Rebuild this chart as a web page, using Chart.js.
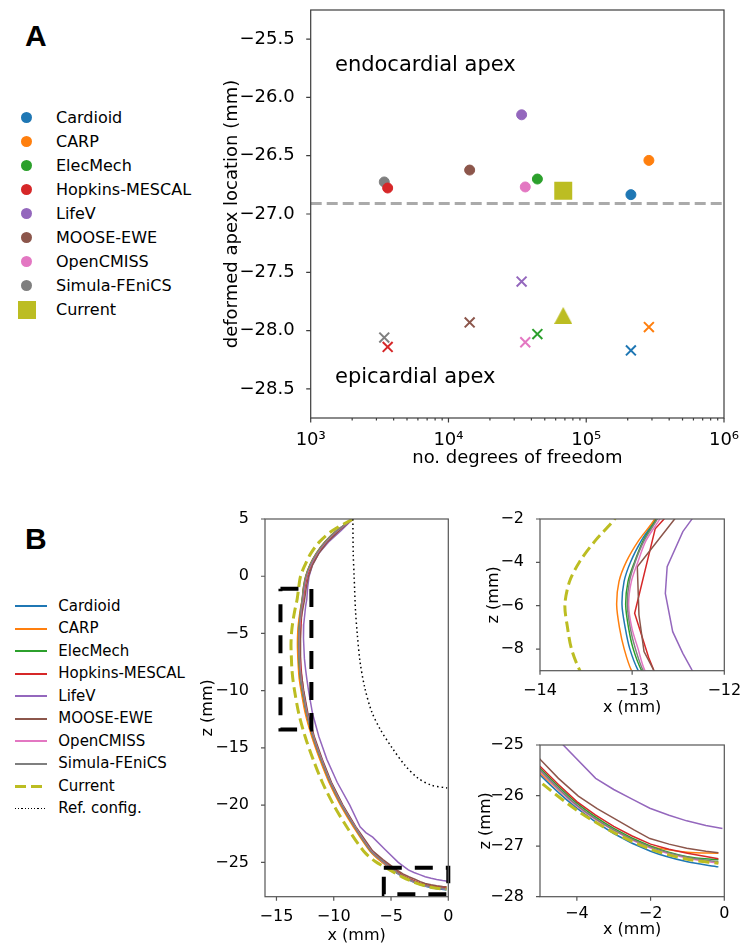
<!DOCTYPE html>
<html>
<head>
<meta charset="utf-8">
<title>Apex location</title>
<script src="https://cdn.jsdelivr.net/npm/chart.js@4.4.1/dist/chart.umd.min.js"></script>
<style>
  body { margin: 0; background: #fff; }
  #page { position: relative; width: 747px; height: 948px; overflow: hidden; font-family: 'DejaVu Sans', sans-serif; color: #000; }
  #page canvas { position: absolute; }
  .tag { position: absolute; font: bold 30px/30px 'Liberation Sans', Arial, sans-serif; }
  .legend { position: absolute; left: 0; }
  .legend-row { position: relative; white-space: nowrap; }
  .legend-row .mk { position: absolute; }
  .legend-row .tx { position: absolute; }
</style>
</head>
<body>
<div id="page">
  <div class="tag" style="left:25px;top:21px">A</div>
  <div class="tag" style="left:25px;top:524px">B</div>
  <div id="legendA" class="legend" style="top:105.7px"></div>
  <div id="legendB" class="legend" style="top:594.75px"></div>
  <canvas id="chartA"></canvas>
  <canvas id="chartB"></canvas>
  <canvas id="chartBTop"></canvas>
  <canvas id="chartBBottom"></canvas>
</div>
<script>
Chart.defaults.font.family = "'DejaVu Sans', sans-serif";
Chart.defaults.color = '#000';

var codes = ['Cardioid', 'CARP', 'ElecMech', 'Hopkins-MESCAL', 'LifeV', 'MOOSE-EWE', 'OpenCMISS', 'Simula-FEniCS'];
var colors = ['#1f77b4', '#ff7f0e', '#2ca02c', '#d62728', '#9467bd', '#8c564b', '#e377c2', '#7f7f7f'];
var currentColor = '#bcbd22';

// panel A: apex position vs no. of dofs
var dofs = [211000, 285000, 44200, 3620, 33960, 14250, 36100, 3420];
var endoApex = [-26.834, -26.54, -26.70, -26.777, -26.149, -26.623, -26.768, -26.725];
var epiApex = [-28.17, -27.97, -28.03, -28.14, -27.58, -27.93, -28.10, -28.06];
var currentDofs = 68100;
var currentEndo = -26.80;
var currentEpi = -27.87;
var refEndoApex = -26.91;
var xTicksA = [1e3, 1e4, 1e5, 1e6];
var xLabelsA = ['10³', '10⁴', '10⁵', '10⁶'];
var minorMults = [2, 3, 4, 5, 6, 7, 8, 9];
var yTicksA = [-25.5, -26, -26.5, -27, -27.5, -28, -28.5];
var noteText = ['endocardial apex', 'epicardial apex'];
var noteX = [1.5e3, 1.5e3];
var noteY = [-25.77, -28.45];

// panel B: deformed midwall lines [x, z]
var cardioidB = [[-8.33,5],[-9.72,4],[-10.77,3],[-11.52,2],[-12.07,1],[-12.44,0],[-12.64,-1],[-12.748,-2],[-12.9,-3],[-13.016,-3.97],[-13.088,-4.89],[-13.11,-5.97],[-13.074,-7.05],[-13.027,-7.97],[-12.937,-8.97],
  [-12.78,-10],[-12.4,-12],[-11.85,-14],[-11.15,-16],[-10.35,-18],[-9.35,-20],[-8.15,-22],[-6.8,-24],[-5.85,-24.9],[-5.0,-25.59],[-4.0,-26.25],[-3.0,-26.75],[-2.0,-27.1],[-1.0,-27.31],[-0.16,-27.41]];
var carpB = [[-8.33,5],[-9.73,4],[-10.78,3],[-11.53,2],[-12.08,1],[-12.45,0],[-12.65,-1],[-12.755,-2],[-12.93,-3],[-13.063,-3.97],[-13.143,-4.89],[-13.168,-5.97],[-13.136,-7.05],[-13.088,-7.97],[-13.009,-8.97],
  [-12.85,-10],[-12.48,-12],[-11.92,-14],[-11.22,-16],[-10.42,-18],[-9.42,-20],[-8.22,-22],[-6.85,-24],[-5.9,-24.9],[-5.0,-25.55],[-4.0,-26.2],[-3.0,-26.68],[-2.0,-27.0],[-1.0,-27.12],[-0.16,-27.14]];
var elecMechB = [[-8.33,5],[-9.7,4],[-10.75,3],[-11.5,2],[-12.05,1],[-12.42,0],[-12.62,-1],[-12.737,-2],[-12.88,-3],[-12.973,-3.97],[-13.045,-4.89],[-13.07,-5.97],[-13.038,-7.05],[-12.99,-7.97],[-12.9,-8.97],
  [-12.74,-10],[-12.36,-12],[-11.81,-14],[-11.11,-16],[-10.31,-18],[-9.31,-20],[-8.11,-22],[-6.76,-24],[-5.8,-24.85],[-5.0,-25.46],[-4.0,-26.15],[-3.0,-26.65],[-2.0,-27.0],[-1.0,-27.21],[-0.16,-27.27]];
var hopkinsB = [[-8.33,5],[-9.6,4],[-10.65,3],[-11.4,2],[-11.95,1],[-12.32,0],[-12.52,-1],[-12.654,-2],[-12.75,-2.45],[-12.973,-6.35],[-12.82,-8.4],[-12.766,-8.97],
  [-12.65,-10],[-12.3,-12],[-11.75,-14],[-11.05,-16],[-10.25,-18],[-9.25,-20],[-8.05,-22],[-6.7,-24],[-5.75,-24.85],[-5.0,-25.42],[-4.5,-25.78],[-4.0,-26.12],[-3.5,-26.38],[-3.0,-26.61],[-2.5,-26.8],[-2.0,-26.96],[-1.5,-27.06],[-1.0,-27.14],[-0.16,-27.25]];
var lifeVB = [[-8.33,5],[-9.35,4],[-10.45,3],[-11.3,2],[-11.85,1],[-12.15,0],[-12.28,-1],[-12.35,-2],[-12.45,-2.58],[-12.62,-4.2],[-12.64,-5.43],[-12.56,-7.2],[-12.45,-8.2],[-12.35,-8.97],
  [-12.2,-10],[-11.85,-12],[-11.3,-14],[-10.6,-16],[-9.7,-18],[-8.6,-20],[-7.7,-21.9],[-7.2,-22.4],[-6.6,-22.8],[-5.5,-23.9],[-4.37,-25],[-3.49,-25.66],[-3.0,-25.88],[-2.5,-26.07],[-2.02,-26.25],[-1.5,-26.39],[-1.02,-26.5],[-0.5,-26.59],[-0.05,-26.65]];
var mooseB = [[-8.33,5],[-9.5,4],[-10.55,3],[-11.3,2],[-11.85,1],[-12.2,0],[-12.4,-1],[-12.539,-2],[-12.944,-4.2],[-12.926,-6.43],[-12.871,-8.12],[-12.766,-8.97],
  [-12.62,-10],[-12.25,-12],[-11.7,-14],[-11.0,-16],[-10.2,-18],[-9.2,-20],[-8.0,-22],[-6.6,-24],[-5.7,-24.75],[-5.0,-25.28],[-4.5,-25.66],[-3.96,-26.01],[-3.45,-26.26],[-2.92,-26.48],[-2.45,-26.68],[-2.02,-26.85],[-1.5,-26.96],[-1.02,-27.04],[-0.5,-27.1],[-0.16,-27.13]];
var openCmissB = [[-8.33,5],[-9.67,4],[-10.71,3],[-11.46,2],[-12.01,1],[-12.38,0],[-12.58,-1],[-12.7,-2],[-12.85,-3],[-12.937,-3.97],[-13.009,-4.89],[-13.038,-5.97],[-13.002,-7.05],[-12.937,-7.97],[-12.864,-8.97],
  [-12.7,-10],[-12.33,-12],[-11.78,-14],[-11.08,-16],[-10.28,-18],[-9.28,-20],[-8.08,-22],[-6.73,-24],[-5.8,-24.87],[-5.0,-25.51],[-4.0,-26.21],[-3.0,-26.69],[-2.0,-27.04],[-1.0,-27.24],[-0.16,-27.34]];
var simulaB = [[-8.33,5],[-9.69,4],[-10.74,3],[-11.49,2],[-12.04,1],[-12.41,0],[-12.61,-1],[-12.726,-2],[-12.87,-3],[-12.966,-3.97],[-13.03,-4.89],[-13.052,-5.97],[-13.02,-7.05],[-12.966,-7.97],[-12.883,-8.97],
  [-12.72,-10],[-12.35,-12],[-11.8,-14],[-11.1,-16],[-10.3,-18],[-9.3,-20],[-8.1,-22],[-6.75,-24],[-5.8,-24.85],[-5.0,-25.49],[-4.0,-26.19],[-3.0,-26.68],[-2.0,-27.02],[-1.0,-27.22],[-0.16,-27.31]];
var currentB = [[-8.33,5],[-10.1,4],[-11.25,3],[-12.0,2],[-12.5,1],[-12.9,0],[-13.06,-1],[-13.19,-2],[-13.4,-3],[-13.57,-3.97],[-13.68,-4.89],[-13.73,-5.97],[-13.7,-7.05],[-13.66,-7.97],[-13.57,-8.97],
  [-13.42,-10],[-13.05,-12],[-12.5,-14],[-11.8,-16],[-11.0,-18],[-10.0,-20],[-8.8,-22],[-7.4,-24],[-6.4,-24.9],[-5.0,-25.73],[-4.0,-26.29],[-3.0,-26.73],[-2.0,-27.06],[-1.0,-27.26],[-0.16,-27.34]];
var refB = [[-8.33,5],[-8.3,2],[-8.22,0],[-8.1,-3],[-7.95,-5],[-7.7,-7.5],[-7.3,-9.7],[-6.7,-11.8],[-5.93,-13.4],[-4.9,-15],[-3.8,-16.5],[-2.7,-17.6],[-1.5,-18.25],[-0.1,-18.5]];
var boxTopB = [[-14.65,-1.1],[-11.95,-1.1],[-11.95,-13.4],[-14.65,-13.4],[-14.65,-1.1]];
var boxBottomB = [[-5.63,-25.46],[0,-25.46],[0,-27.78],[-5.63,-27.78],[-5.63,-25.46]];

var seriesB = [cardioidB, carpB, elecMechB, hopkinsB, lifeVB, mooseB, openCmissB, simulaB];
var tensionB = [0.3, 0.3, 0.3, 0, 0, 0, 0.3, 0.3];

var xTicksB = [-15, -10, -5, 0];
var yTicksB = [5, 0, -5, -10, -15, -20, -25];
var xTicksTop = [-14, -13, -12];
var yTicksTop = [-2, -4, -6, -8];
var xTicksBot = [-4, -2, 0];
var yTicksBot = [-25, -26, -27, -28];

function minus(s) { return String(s).replace('-', '\u2212'); }

function toXY(pts) {
  return pts.map(function(p) { return { x: p[0], y: p[1] }; });
}

function fixedTicks(list) {
  return function(s) { s.ticks = list.map(function(v) { return { value: v }; }); };
}

// spines + outward tick marks, matplotlib style
var framePlugin = {
  id: 'frame',
  afterDatasetsDraw: function(chart, args, opts) {
    var a = chart.chartArea, ctx = chart.ctx;
    var xs = chart.scales.x, ys = chart.scales.y;
    ctx.save();
    ctx.strokeStyle = opts.color;
    ctx.lineWidth = opts.width;
    ctx.beginPath();
    xs.ticks.forEach(function(t) {
      var px = xs.getPixelForValue(t.value);
      ctx.moveTo(px, a.bottom);
      ctx.lineTo(px, a.bottom + (t.label ? opts.major : opts.minor));
    });
    ys.ticks.forEach(function(t) {
      var py = ys.getPixelForValue(t.value);
      ctx.moveTo(a.left, py);
      ctx.lineTo(a.left - opts.major, py);
    });
    ctx.stroke();
    ctx.strokeRect(a.left, a.top, a.right - a.left, a.bottom - a.top);
    ctx.restore();
  }
};

var notesPlugin = {
  id: 'notes',
  afterDraw: function(chart) {
    var ctx = chart.ctx;
    ctx.save();
    ctx.font = "21px 'DejaVu Sans', sans-serif";
    ctx.fillStyle = '#000';
    ctx.textBaseline = 'alphabetic';
    ctx.textAlign = 'left';
    noteText.forEach(function(t, i) {
      ctx.fillText(t, chart.scales.x.getPixelForValue(noteX[i]), chart.scales.y.getPixelForValue(noteY[i]));
    });
    ctx.restore();
  }
};

function buildChart(id, place, plot, cfg) {
  var cv = document.getElementById(id);
  cv.width = place.w; cv.height = place.h;
  cv.style.left = place.left + 'px'; cv.style.top = place.top + 'px';
  cv.style.width = place.w + 'px'; cv.style.height = place.h + 'px';
  var fs = cfg.fontSize;
  var x = Object.assign({
    grid: { display: false }, border: { display: false },
    ticks: { font: { size: fs }, padding: cfg.xTickPad, maxRotation: 0, autoSkip: false, callback: cfg.xFmt },
    title: { display: true, text: cfg.xTitle, font: { size: fs }, padding: { top: 0, bottom: cfg.xTitlePad } },
    afterFit: function(s) { s.height = place.top + place.h - plot.bottom; s.paddingLeft = 0; s.paddingRight = 0; }
  }, cfg.x);
  var y = Object.assign({
    grid: { display: false }, border: { display: false },
    ticks: { font: { size: fs }, padding: cfg.yTickPad, autoSkip: false, callback: cfg.yFmt },
    title: { display: true, text: cfg.yTitle, font: { size: fs }, padding: { top: cfg.yTitlePad, bottom: 0 } },
    afterFit: function(s) { s.width = plot.left - place.left; s.paddingTop = 0; s.paddingBottom = 0; }
  }, cfg.y);
  return new Chart(cv, {
    type: 'scatter',
    data: { datasets: cfg.datasets },
    options: {
      responsive: false, animation: false, devicePixelRatio: 1,
      layout: { autoPadding: false, padding: { left: 0, bottom: 0, top: plot.top - place.top, right: place.left + place.w - plot.right } },
      elements: { line: { capBezierPoints: false } },
      plugins: { legend: { display: false }, tooltip: { enabled: false }, frame: cfg.frame },
      scales: { x: x, y: y }
    },
    plugins: [framePlugin].concat(cfg.plugins || [])
  });
}

function triangleMarker(w, h, color) {
  var c = document.createElement('canvas');
  c.width = w; c.height = h;
  var g = c.getContext('2d');
  g.fillStyle = color;
  g.beginPath(); g.moveTo(w / 2, 0); g.lineTo(w, h); g.lineTo(0, h); g.closePath(); g.fill();
  return c;
}

// ---- panel A ----
var datasetsA = codes.map(function(name, i) {
  return {
    label: name,
    data: [{ x: dofs[i], y: endoApex[i] }, { x: dofs[i], y: epiApex[i] }],
    pointStyle: ['circle', 'crossRot'],
    pointRadius: [5, 7],
    pointBorderWidth: [1, 2],
    backgroundColor: colors[i],
    borderColor: colors[i]
  };
});
datasetsA.push({
  label: 'Current',
  data: [{ x: currentDofs, y: currentEndo }, { x: currentDofs, y: currentEpi }],
  pointStyle: ['rect', triangleMarker(18, 17, currentColor)],
  pointRadius: [12.7, 9],
  pointBorderWidth: 0,
  backgroundColor: currentColor,
  borderColor: currentColor
});
datasetsA.push({
  label: 'ref',
  data: [{ x: xTicksA[0], y: refEndoApex }, { x: xTicksA[xTicksA.length - 1], y: refEndoApex }],
  showLine: true, pointRadius: 0, borderColor: '#aaaaaa', borderWidth: 3, borderDash: [11, 5]
});

buildChart('chartA', { left: 215, top: 0, w: 532, h: 480 }, { left: 310.7, top: 10, right: 724, bottom: 418 }, {
  fontSize: 18,
  datasets: datasetsA,
  xTitle: 'no. degrees of freedom', xTitlePad: 10.5, xTickPad: 4,
  yTitle: 'deformed apex location (mm)', yTitlePad: 6.7, yTickPad: 8,
  xFmt: function(v) { var i = xTicksA.indexOf(v); return i < 0 ? '' : xLabelsA[i]; },
  yFmt: function(v) { return minus(v.toFixed(1)); },
  x: {
    type: 'logarithmic', min: xTicksA[0], max: xTicksA[xTicksA.length - 1],
    afterBuildTicks: function(s) {
      var t = [];
      xTicksA.forEach(function(v, i) {
        t.push({ value: v });
        if (i < xTicksA.length - 1) minorMults.forEach(function(m) { t.push({ value: v * m }); });
      });
      s.ticks = t;
    }
  },
  y: { type: 'linear', min: -28.75, max: -25.25, afterBuildTicks: fixedTicks(yTicksA) },
  frame: { color: '#3c3c3c', width: 1.2, major: 4.5, minor: 2.5 },
  plugins: [notesPlugin]
});

// ---- panel B ----
function curveSets(withRef) {
  var ds = seriesB.map(function(pts, i) {
    return { label: codes[i], data: toXY(pts), showLine: true, borderColor: colors[i], borderWidth: 1.5, pointRadius: 0, tension: tensionB[i] };
  });
  ds.push({ label: 'Current', data: toXY(currentB), showLine: true, borderColor: currentColor, borderWidth: 3, borderDash: [11, 5], pointRadius: 0, tension: 0.3 });
  if (withRef) {
    ds.push({ label: 'Ref. config.', data: toXY(refB), showLine: true, borderColor: '#000', borderWidth: 1.5, borderDash: [1.5, 3], pointRadius: 0, tension: 0.3 });
    [boxTopB, boxBottomB].forEach(function(b) {
      ds.push({ data: toXY(b), showLine: true, borderColor: '#000', borderWidth: 4, borderDash: [18, 13], pointRadius: 0, tension: 0, clip: 6 });
    });
  }
  return ds.reverse();
}

var frameB = { color: '#555', width: 1.2, major: 4, minor: 2 };

buildChart('chartB', { left: 190, top: 505, w: 270, h: 443 }, { left: 265, top: 519, right: 448.3, bottom: 896.7 }, {
  fontSize: 16,
  datasets: curveSets(true),
  xTitle: 'x (mm)', xTitlePad: 2.5, xTickPad: 3,
  yTitle: 'z (mm)', yTitlePad: 8.4, yTickPad: 8,
  xFmt: minus, yFmt: minus,
  x: { type: 'linear', min: -16, max: 0, afterBuildTicks: fixedTicks(xTicksB) },
  y: { type: 'linear', min: -28, max: 5, afterBuildTicks: fixedTicks(yTicksB) },
  frame: frameB
});

buildChart('chartBTop', { left: 470, top: 505, w: 277, h: 215 }, { left: 540, top: 519, right: 724.3, bottom: 670.7 }, {
  fontSize: 16,
  datasets: curveSets(false),
  xTitle: 'x (mm)', xTitlePad: 2.2, xTickPad: 2.5,
  yTitle: 'z (mm)', yTitlePad: 14.4, yTickPad: 8,
  xFmt: minus, yFmt: minus,
  x: { type: 'linear', min: -14, max: -12, afterBuildTicks: fixedTicks(xTicksTop) },
  y: { type: 'linear', min: -9, max: -2, afterBuildTicks: fixedTicks(yTicksTop) },
  frame: frameB
});

buildChart('chartBBottom', { left: 470, top: 725, w: 277, h: 223 }, { left: 540, top: 745, right: 724.3, bottom: 896.7 }, {
  fontSize: 16,
  datasets: curveSets(false),
  xTitle: 'x (mm)', xTitlePad: 9, xTickPad: 0,
  yTitle: 'z (mm)', yTitlePad: 5.9, yTickPad: 8,
  xFmt: minus, yFmt: minus,
  x: { type: 'linear', min: -5, max: 0, afterBuildTicks: fixedTicks(xTicksBot) },
  y: { type: 'linear', min: -28, max: -25, afterBuildTicks: fixedTicks(yTicksBot) },
  frame: frameB
});

// ---- legends ----
function renderLegendA() {
  var el = document.getElementById('legendA');
  var html = '';
  codes.forEach(function(name, i) {
    html += '<div class="legend-row" style="height:24px;line-height:24px;font-size:16px">'
      + '<span class="mk" style="left:21.2px;top:6.5px;width:11px;height:11px;border-radius:50%;background:' + colors[i] + '"></span>'
      + '<span class="tx" style="left:56px">' + name + '</span></div>';
  });
  html += '<div class="legend-row" style="height:24px;line-height:24px;font-size:16px">'
    + '<span class="mk" style="left:17.7px;top:3px;width:18px;height:18px;background:' + currentColor + '"></span>'
    + '<span class="tx" style="left:56px">Current</span></div>';
  el.innerHTML = html;
}

function renderLegendB() {
  var el = document.getElementById('legendB');
  var row = function(sample, name) {
    return '<div class="legend-row" style="height:22.5px;line-height:22.5px;font-size:15px">'
      + sample + '<span class="tx" style="left:58.3px">' + name + '</span></div>';
  };
  var html = '';
  codes.forEach(function(name, i) {
    html += row('<span class="mk" style="left:15px;top:10.25px;width:31.7px;height:2px;background:' + colors[i] + '"></span>', name);
  });
  html += row('<span class="mk" style="left:15px;top:9.75px;width:31.7px;height:3px;background:repeating-linear-gradient(90deg,' + currentColor + ' 0 11px,transparent 11px 16px)"></span>', 'Current');
  html += row('<span class="mk" style="left:15px;top:10.75px;width:31.7px;height:1px;background:repeating-linear-gradient(90deg,#000 0 1.2px,transparent 1.2px 3.2px)"></span>', 'Ref. config.');
  el.innerHTML = html;
}

renderLegendA();
renderLegendB();
</script>
</body>
</html>
